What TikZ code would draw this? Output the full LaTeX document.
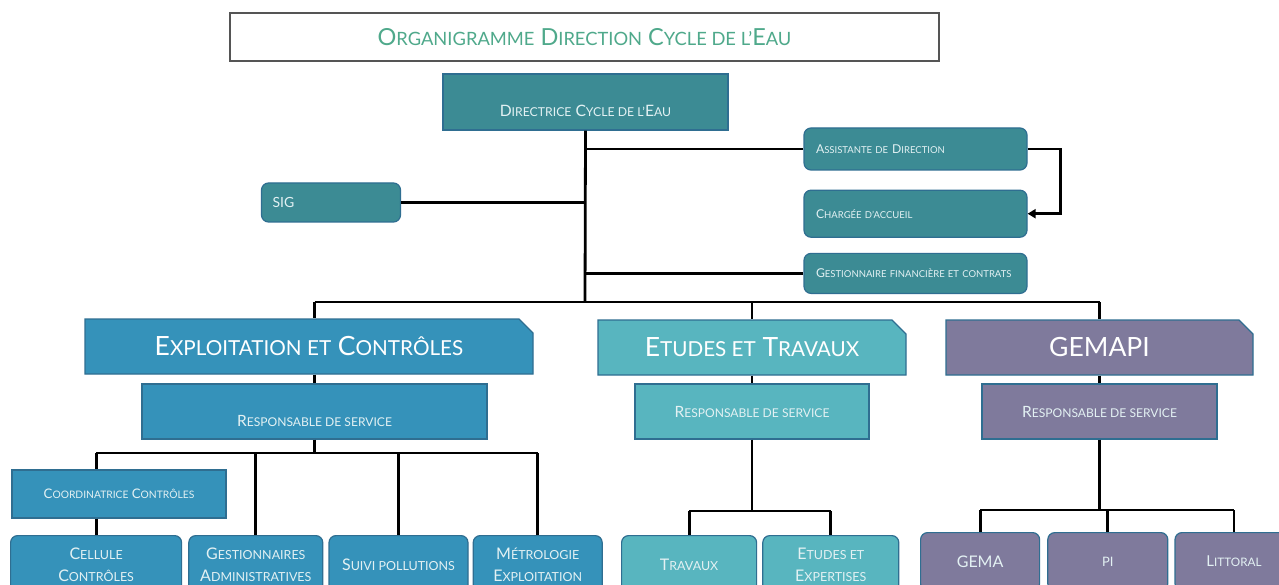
\documentclass[tikz,border=0pt]{standalone}
\usepackage{fontspec}
\setmainfont{Lato}
\usepackage{graphicx}
\usetikzlibrary{positioning, shapes.misc, arrows.meta}

\definecolor{titlegreen}{HTML}{4FA98B}
\definecolor{titleedge}{HTML}{555555}
\definecolor{dirteal}{HTML}{3C8B94}
\definecolor{explblue}{HTML}{3592BA}
\definecolor{etudteal}{HTML}{58B5BF}
\definecolor{gemapurple}{HTML}{7F7A9C}
\definecolor{boxedge}{HTML}{2F6E91}
\definecolor{lighttext}{HTML}{E3F1F3}

% fausses petites capitales
\newcommand\smc[1]{\scalebox{0.78}{\MakeUppercase{#1}}}
\newcommand\fsize[1]{\fontsize{#1}{1.35\dimexpr#1pt\relax}\selectfont}

\begin{document}
\begin{tikzpicture}[x=1pt, y=-1pt,
    box/.style={draw=boxedge, line width=1.2pt, text=lighttext, inner sep=0pt},
    roundbox/.style={box, rounded corners=7pt},
    header/.style={box, text=white, chamfered rectangle, chamfered rectangle corners=north east,
        chamfered rectangle sep=7pt, minimum height=55pt, font=\fsize{26.5}},
    leftbox/.style={roundbox, fill=dirteal, minimum width=223pt, text width=199pt, align=left, font=\fsize{12.2}},
    botbox/.style={roundbox, minimum height=58pt, align=center, font=\fontsize{16}{21.5}\selectfont},
    link/.style={line width=2.8pt, black}]
\clip (0,0) rectangle (1279,585);
\fill[white] (0,0) rectangle (1279,585);

\node[draw=titleedge, line width=1.5pt, fill=white, minimum width=709pt, minimum height=48pt,
    text=titlegreen, font=\fsize{23.5}] (title) at (584.5,37)
    {O\smc{rganigramme} D\smc{irection} C\smc{ycle de l’}E\smc{au}};

\node[box, fill=dirteal, minimum width=285pt, minimum height=56pt, font=\fsize{15.7}] (dir) at (585.5,102)
    {\raisebox{-15pt}[0pt][0pt]{D\smc{irectrice} C\smc{ycle de l’}E\smc{au}}};

\node[leftbox, minimum height=42pt] (assist) at (915.5,149) {A\smc{ssistante de} D\smc{irection}};
\node[leftbox, minimum height=47pt, below=19pt of assist] (accueil) {C\smc{hargée d’accueil}};
\node[leftbox, minimum height=40pt, below=15pt of accueil] (gestfin) {G\smc{estionnaire financière et contrats}};
\node[roundbox, fill=dirteal, minimum width=139pt, text width=117pt, minimum height=39pt, align=left,
    font=\fsize{14}] (sig) at (331,202.5) {SIG};

\coordinate (bus) at (585,302);

% services
\node[header, fill=explblue, minimum width=448pt] (expl) at (309,346.5) {E\smc{xploitation et} C\smc{ontrôles}};
\node[box, fill=explblue, minimum width=345pt, minimum height=55pt, font=\fsize{15.5}] (resp1) at (314.5,411.5)
    {\raisebox{-15pt}[0pt][0pt]{R\smc{esponsable de service}}};
\node[header, fill=etudteal, minimum width=308pt] (etudes) at (752,347.5) {E\smc{tudes et} T\smc{ravaux}};
\node[box, fill=etudteal, minimum width=234pt, minimum height=55pt, font=\fsize{15.5}] (resp2) at (752,411.5)
    {R\smc{esponsable de service}};
\node[header, fill=gemapurple, minimum width=307pt] (gemapi) at (1099.5,347.5) {GEMAPI};
\node[box, fill=gemapurple, minimum width=235pt, minimum height=55pt, font=\fsize{15.5}] (resp3) at (1099.5,411.5)
    {R\smc{esponsable de service}};

% exploitation et controles
\node[box, fill=explblue, minimum width=214pt, minimum height=48pt, font=\fsize{13.2}] (coord) at (119,494)
    {C\smc{oordinatrice} C\smc{ontrôles}};
\node[botbox, fill=explblue, minimum width=171pt, anchor=north west] (cellule) at (10,535)
    {C\smc{ellule}\\C\smc{ontrôles}};
\node[botbox, fill=explblue, minimum width=134pt, right=6pt of cellule] (gestadm)
    {G\smc{estionnaires}\\A\smc{dministratives}};
\node[botbox, fill=explblue, minimum width=139pt, right=5pt of gestadm] (suivi) {S\smc{uivi pollutions}};
\node[botbox, fill=explblue, minimum width=129pt, right=4pt of suivi] (metro)
    {M\smc{étrologie}\\E\smc{xploitation}};

% etudes et travaux
\node[botbox, fill=etudteal, minimum width=135pt, anchor=north west] (travaux) at (621,535) {T\smc{ravaux}};
\node[botbox, fill=etudteal, minimum width=136pt, right=5pt of travaux] (etexp)
    {E\smc{tudes et}\\E\smc{xpertises}};

% gemapi
\node[botbox, fill=gemapurple, minimum width=119pt, anchor=north west] (gema) at (920,532) {GEMA};
\node[botbox, fill=gemapurple, minimum width=120pt, right=7pt of gema, font=\fsize{13}] (pi) {PI};
\node[botbox, fill=gemapurple, minimum width=118pt, right=6pt of pi, font=\fsize{15}] (littoral) {L\smc{ittoral}};

% liaisons direction
\draw[link] (dir.south) -- (bus);
\draw[link] (sig.east) -- (sig.east -| bus);
\draw[link] (assist.west) -- (assist.west -| bus);
\draw[link] (gestfin.west) -- (gestfin.west -| bus);
\draw[link, -{Triangle[length=8pt, width=9pt]}] (assist.east) -- ++(33,0) |- (accueil.east);

\draw[link] (resp1.north |- bus) -- (resp3.north |- bus);
\foreach \h/\r in {expl/resp1, etudes/resp2, gemapi/resp3} {
    \draw[link] (\r.north |- bus) -- (\r.north |- \h.north);
    \draw[link] (\r.north |- \h.south) -- (\r.north);
}

% liaisons exploitation
\coordinate (ebus) at (0,453);
\draw[link] (resp1.south) -- (resp1.south |- ebus);
\draw[link] (cellule.north |- ebus) -- (metro.north |- ebus);
\draw[link] (cellule.north |- ebus) -- (cellule.north |- coord.north);
\draw[link] (cellule.north |- coord.south) -- (cellule.north);
\foreach \b in {gestadm, suivi, metro}
    \draw[link] (\b.north |- ebus) -- (\b.north);

% liaisons etudes
\coordinate (tbus) at (0,511);
\draw[link] (resp2.south) -- (resp2.south |- tbus);
\draw[link] (travaux.north |- tbus) -- (etexp.north |- tbus);
\foreach \b in {travaux, etexp}
    \draw[link] (\b.north |- tbus) -- (\b.north);

% liaisons gemapi
\coordinate (gbus) at (0,510);
\draw[link] (resp3.south) -- (resp3.south |- gbus);
\draw[link] (gema.north |- gbus) -- (littoral.north |- gbus);
\foreach \b in {gema, pi, littoral}
    \draw[link] (\b.north |- gbus) -- (\b.north);
\end{tikzpicture}
\end{document}
